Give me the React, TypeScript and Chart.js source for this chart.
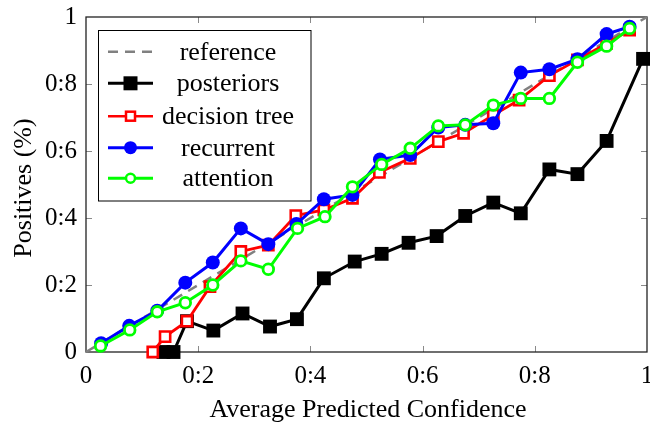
import React, { useEffect, useRef } from "react";
import { Chart, registerables } from "chart.js";

Chart.register(...registerables);

// ---- data ----
const refX = [0, 1];
const refY = [0, 1];

const postX = [0.138, 0.156, 0.18, 0.227, 0.279, 0.328, 0.376, 0.424, 0.479, 0.527, 0.575, 0.625, 0.676, 0.726, 0.775, 0.826, 0.876, 0.928, 0.993];
const postY = [0, 0, 0.092, 0.064, 0.115, 0.076, 0.098, 0.22, 0.27, 0.293, 0.326, 0.346, 0.406, 0.446, 0.414, 0.545, 0.531, 0.63, 0.875];

const treeX = [0.119, 0.141, 0.18, 0.221, 0.276, 0.325, 0.374, 0.424, 0.475, 0.523, 0.578, 0.628, 0.673, 0.726, 0.772, 0.826, 0.876, 0.928, 0.969];
const treeY = [0, 0.046, 0.092, 0.195, 0.3, 0.319, 0.407, 0.424, 0.459, 0.536, 0.578, 0.628, 0.653, 0.707, 0.752, 0.825, 0.872, 0.921, 0.961];

const recX = [0.027, 0.077, 0.127, 0.177, 0.226, 0.276, 0.325, 0.375, 0.424, 0.475, 0.524, 0.578, 0.628, 0.676, 0.726, 0.775, 0.826, 0.876, 0.928, 0.969];
const recY = [0.026, 0.078, 0.123, 0.207, 0.267, 0.369, 0.322, 0.382, 0.456, 0.469, 0.575, 0.588, 0.67, 0.678, 0.683, 0.834, 0.844, 0.874, 0.949, 0.971];

const attX = [0.026, 0.078, 0.127, 0.177, 0.226, 0.276, 0.325, 0.377, 0.426, 0.475, 0.527, 0.578, 0.628, 0.676, 0.726, 0.775, 0.826, 0.876, 0.928, 0.969];
const attY = [0.018, 0.066, 0.12, 0.147, 0.2, 0.272, 0.247, 0.369, 0.404, 0.493, 0.56, 0.608, 0.675, 0.678, 0.737, 0.757, 0.757, 0.865, 0.913, 0.966];

const tickValues = [0, 0.2, 0.4, 0.6, 0.8, 1];
const tickLabels = ["0", "0:2", "0:4", "0:6", "0:8", "1"];
const legendLabels = ["reference", "posteriors", "decision tree", "recurrent", "attention"];
const xTitle = "Average Predicted Confidence";
const yTitle = "Positives (%)";

const FONT = '"Liberation Serif", "Times New Roman", Times, serif';

// plot area box (layout)
const AREA = { left: 86, top: 17, right: 647, bottom: 352 };

function pts(xs: number[], ys: number[]) {
  return xs.map((x, i) => ({ x, y: ys[i] }));
}

function tickLabel(v: number) {
  const i = tickValues.findIndex((t) => Math.abs(t - v) < 1e-6);
  return i >= 0 ? tickLabels[i] : "";
}

const areaPlugin = {
  id: "fixArea",
  afterLayout(chart: any) {
    const ca = chart.chartArea;
    ca.left = AREA.left;
    ca.right = AREA.right;
    ca.top = AREA.top;
    ca.bottom = AREA.bottom;
    ca.width = AREA.right - AREA.left;
    ca.height = AREA.bottom - AREA.top;
    const xs = chart.scales.x;
    xs.left = AREA.left;
    xs.right = AREA.right;
    xs.width = AREA.right - AREA.left;
    xs.top = AREA.bottom;
    xs.bottom = 424;
    xs.height = 424 - AREA.bottom;
    xs.configure();
    const ys = chart.scales.y;
    ys.top = AREA.top;
    ys.bottom = AREA.bottom;
    ys.height = AREA.bottom - AREA.top;
    ys.left = 0;
    ys.right = AREA.left;
    ys.width = AREA.left;
    ys.configure();
  },
};

const framePlugin = {
  id: "frame",
  beforeDatasetsDraw(chart: any) {
    const { ctx, chartArea: a, scales } = chart;
    ctx.save();
    ctx.strokeStyle = "#8a8a8a";
    ctx.lineWidth = 1;
    const tl = 6;
    tickValues.forEach((v) => {
      if (v === 0 || v === 1) return;
      const px = Math.round(scales.x.getPixelForValue(v)) + 0.5;
      ctx.beginPath();
      ctx.moveTo(px, a.bottom);
      ctx.lineTo(px, a.bottom - tl);
      ctx.moveTo(px, a.top);
      ctx.lineTo(px, a.top + tl);
      ctx.stroke();
      const py = Math.round(scales.y.getPixelForValue(v)) + 0.5;
      ctx.beginPath();
      ctx.moveTo(a.left, py);
      ctx.lineTo(a.left + tl, py);
      ctx.moveTo(a.right, py);
      ctx.lineTo(a.right - tl, py);
      ctx.stroke();
    });
    ctx.strokeStyle = "#222";
    ctx.lineWidth = 1.3;
    ctx.strokeRect(a.left, a.top, a.right - a.left, a.bottom - a.top);
    ctx.restore();
  },
};

function drawMarker(ctx: CanvasRenderingContext2D, kind: string, x: number, y: number) {
  ctx.save();
  if (kind === "fillsq") {
    ctx.fillStyle = "#000";
    ctx.fillRect(x - 7, y - 7, 14, 14);
  } else if (kind === "opensq") {
    ctx.strokeStyle = "#ff0000";
    ctx.lineWidth = 2.5;
    ctx.fillStyle = "#fff";
    ctx.fillRect(x - 4.5, y - 4.5, 9, 9);
    ctx.strokeRect(x - 4.5, y - 4.5, 9, 9);
  } else if (kind === "fillcirc") {
    ctx.fillStyle = "#0000ff";
    ctx.beginPath();
    ctx.arc(x, y, 6.5, 0, Math.PI * 2);
    ctx.fill();
  } else if (kind === "opencirc") {
    ctx.strokeStyle = "#00ff00";
    ctx.fillStyle = "#fff";
    ctx.lineWidth = 2.5;
    ctx.beginPath();
    ctx.arc(x, y, 4.5, 0, Math.PI * 2);
    ctx.fill();
    ctx.stroke();
  }
  ctx.restore();
}

const legendPlugin = {
  id: "customLegend",
  afterDatasetsDraw(chart: any) {
    const ctx: CanvasRenderingContext2D = chart.ctx;
    const bx = 98.5, by = 30.5, bw = 212.5, bh = 170.5;
    ctx.save();
    ctx.fillStyle = "#fff";
    ctx.fillRect(bx, by, bw, bh);
    ctx.strokeStyle = "#000";
    ctx.lineWidth = 1;
    ctx.strokeRect(bx, by, bw, bh);
    const rows = [51.7, 83.3, 116.2, 147.7, 178.3];
    const styles = [
      { color: "#808080", width: 2.5, dash: [10, 7], marker: "" },
      { color: "#000000", width: 3, dash: [], marker: "fillsq" },
      { color: "#ff0000", width: 2.5, dash: [], marker: "opensq" },
      { color: "#0000ff", width: 3, dash: [], marker: "fillcirc" },
      { color: "#00ff00", width: 3, dash: [], marker: "opencirc" },
    ];
    rows.forEach((ry, i) => {
      const s = styles[i];
      ctx.save();
      ctx.strokeStyle = s.color;
      ctx.lineWidth = s.width;
      ctx.setLineDash(s.dash);
      ctx.beginPath();
      ctx.moveTo(108, ry);
      ctx.lineTo(153, ry);
      ctx.stroke();
      ctx.restore();
      if (s.marker) drawMarker(ctx, s.marker, 130.5, ry);
      ctx.fillStyle = "#000";
      ctx.font = `26px ${FONT}`;
      ctx.textAlign = "center";
      ctx.textBaseline = "middle";
      ctx.fillText(legendLabels[i], 228, ry + 1);
    });
    ctx.restore();
  },
};

const titlesPlugin = {
  id: "titles",
  afterDraw(chart: any) {
    const ctx: CanvasRenderingContext2D = chart.ctx;
    ctx.save();
    ctx.fillStyle = "#000";
    ctx.font = `26px ${FONT}`;
    ctx.textAlign = "center";
    ctx.textBaseline = "alphabetic";
    ctx.fillText(xTitle, 368, 417);
    ctx.translate(31, 188);
    ctx.rotate(-Math.PI / 2);
    ctx.fillText(yTitle, 0, 0);
    ctx.restore();
  },
};

export default function App() {
  const canvasRef = useRef<HTMLCanvasElement | null>(null);

  useEffect(() => {
    document.body.style.margin = "0";
    const canvas = canvasRef.current;
    if (!canvas) return;
    const common = { showLine: true, clip: false as any, tension: 0 };
    const chart = new Chart(canvas, {
      type: "scatter",
      data: {
        datasets: [
          {
            ...common,
            label: legendLabels[0],
            data: pts(refX, refY),
            borderColor: "#808080",
            borderWidth: 2.5,
            borderDash: [10, 7],
            pointRadius: 0,
            order: 5,
          },
          {
            ...common,
            label: legendLabels[1],
            data: pts(postX, postY),
            borderColor: "#000000",
            borderWidth: 3,
            pointStyle: "rect",
            pointRadius: 9.8,
            pointBackgroundColor: "#000000",
            pointBorderColor: "#000000",
            pointBorderWidth: 0,
            order: 4,
          },
          {
            ...common,
            label: legendLabels[2],
            data: pts(treeX, treeY),
            borderColor: "#ff0000",
            borderWidth: 2.8,
            pointStyle: "rect",
            pointRadius: 7.2,
            pointBackgroundColor: "#ffffff",
            pointBorderColor: "#ff0000",
            pointBorderWidth: 2.6,
            order: 3,
          },
          {
            ...common,
            label: legendLabels[3],
            data: pts(recX, recY),
            borderColor: "#0000ff",
            borderWidth: 3,
            pointStyle: "circle",
            pointRadius: 7,
            pointBackgroundColor: "#0000ff",
            pointBorderColor: "#0000ff",
            pointBorderWidth: 0,
            order: 2,
          },
          {
            ...common,
            label: legendLabels[4],
            data: pts(attX, attY),
            borderColor: "#00ff00",
            borderWidth: 3,
            pointStyle: "circle",
            pointRadius: 5.3,
            pointBackgroundColor: "#ffffff",
            pointBorderColor: "#00ff00",
            pointBorderWidth: 2.8,
            order: 1,
          },
        ],
      },
      options: {
        animation: false,
        responsive: false,
        devicePixelRatio: 1,
        layout: { padding: { top: 17, right: 3, left: 0, bottom: 0 } },
        plugins: {
          legend: { display: false },
          tooltip: { enabled: false },
        },
        scales: {
          x: {
            type: "linear",
            min: 0,
            max: 1,
            grid: { display: false, drawTicks: false },
            border: { display: false },
            ticks: {
              stepSize: 0.2,
              padding: 9,
              color: "#000",
              font: { family: FONT, size: 25 },
              maxRotation: 0,
              callback: (v: any) => tickLabel(Number(v)),
            },
            afterFit: (s: any) => {
              s.height = 72;
              s.paddingLeft = 0;
              s.paddingRight = 0;
            },
          },
          y: {
            type: "linear",
            min: 0,
            max: 1,
            grid: { display: false, drawTicks: false },
            border: { display: false },
            ticks: {
              stepSize: 0.2,
              padding: 9,
              color: "#000",
              font: { family: FONT, size: 25 },
              callback: (v: any) => tickLabel(Number(v)),
            },
            afterFit: (s: any) => {
              s.width = 86;
              s.paddingTop = 0;
              s.paddingBottom = 0;
            },
          },
        },
      },
      plugins: [areaPlugin, framePlugin, legendPlugin, titlesPlugin],
    } as any);
    return () => chart.destroy();
  }, []);

  return (
    <div style={{ width: 650, height: 424 }}>
      <canvas ref={canvasRef} width={650} height={424} style={{ display: "block" }} />
    </div>
  );
}
